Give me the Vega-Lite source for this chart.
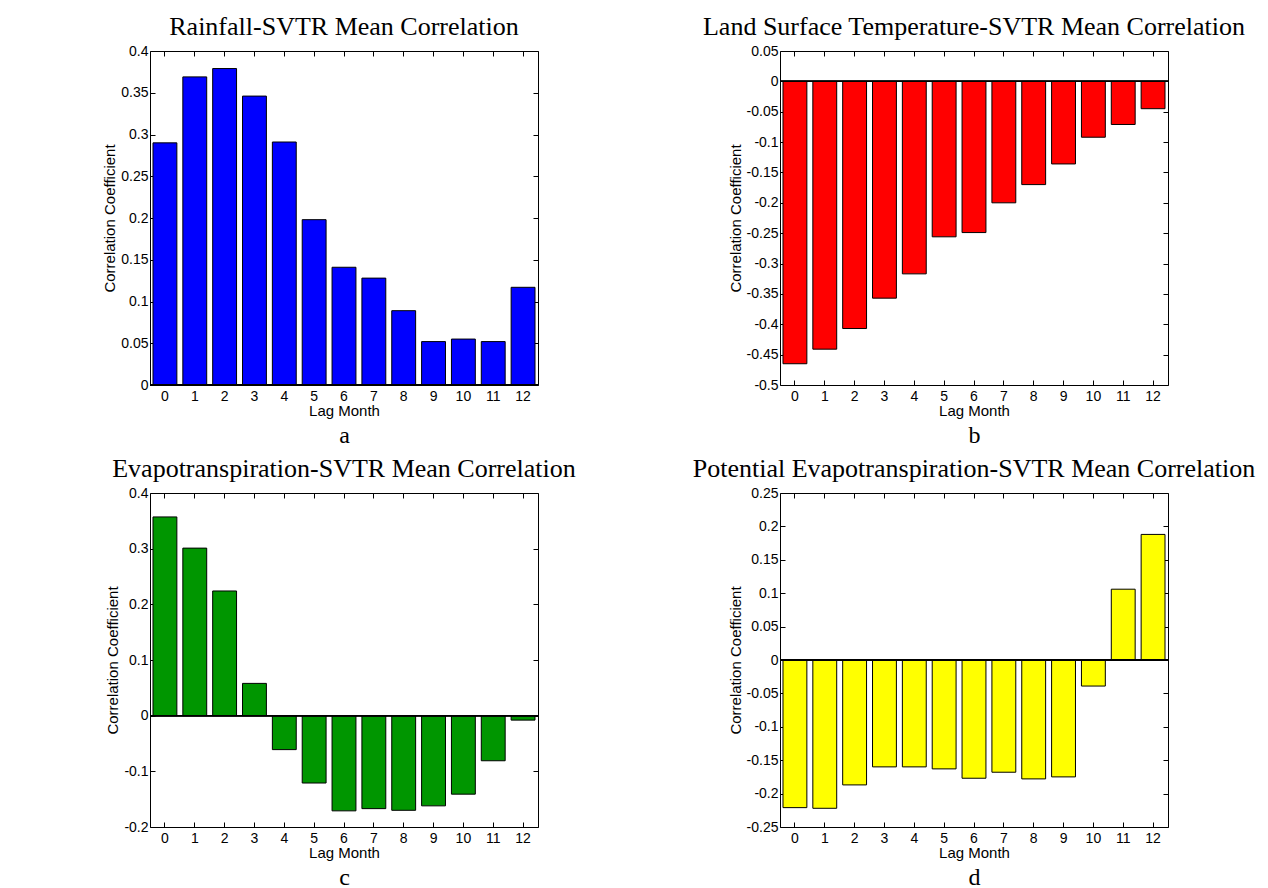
{
  "$schema": "https://vega.github.io/schema/vega-lite/v6.json",
  "background": "white",
  "padding": {"left": 102, "top": 13, "right": 5, "bottom": 0},
  "datasets": {
    "rain": [
      {"lag": 0, "r": 0.290}, {"lag": 1, "r": 0.369}, {"lag": 2, "r": 0.379}, {"lag": 3, "r": 0.346},
      {"lag": 4, "r": 0.291}, {"lag": 5, "r": 0.198}, {"lag": 6, "r": 0.141}, {"lag": 7, "r": 0.128},
      {"lag": 8, "r": 0.089}, {"lag": 9, "r": 0.052}, {"lag": 10, "r": 0.055}, {"lag": 11, "r": 0.052},
      {"lag": 12, "r": 0.117}
    ],
    "lst": [
      {"lag": 0, "r": -0.465}, {"lag": 1, "r": -0.441}, {"lag": 2, "r": -0.407}, {"lag": 3, "r": -0.357},
      {"lag": 4, "r": -0.317}, {"lag": 5, "r": -0.256}, {"lag": 6, "r": -0.249}, {"lag": 7, "r": -0.200},
      {"lag": 8, "r": -0.170}, {"lag": 9, "r": -0.136}, {"lag": 10, "r": -0.092}, {"lag": 11, "r": -0.071},
      {"lag": 12, "r": -0.045}
    ],
    "et": [
      {"lag": 0, "r": 0.357}, {"lag": 1, "r": 0.301}, {"lag": 2, "r": 0.224}, {"lag": 3, "r": 0.058},
      {"lag": 4, "r": -0.061}, {"lag": 5, "r": -0.121}, {"lag": 6, "r": -0.171}, {"lag": 7, "r": -0.167},
      {"lag": 8, "r": -0.170}, {"lag": 9, "r": -0.162}, {"lag": 10, "r": -0.141}, {"lag": 11, "r": -0.081},
      {"lag": 12, "r": -0.008}
    ],
    "pet": [
      {"lag": 0, "r": -0.221}, {"lag": 1, "r": -0.222}, {"lag": 2, "r": -0.187}, {"lag": 3, "r": -0.160},
      {"lag": 4, "r": -0.160}, {"lag": 5, "r": -0.163}, {"lag": 6, "r": -0.177}, {"lag": 7, "r": -0.168},
      {"lag": 8, "r": -0.178}, {"lag": 9, "r": -0.175}, {"lag": 10, "r": -0.039}, {"lag": 11, "r": 0.106},
      {"lag": 12, "r": 0.188}
    ]
  },
  "columns": 2,
  "spacing": {"row": 108, "column": 242},
  "bounds": "flush",
  "concat": [
    {
      "width": 388, "height": 334,
      "title": {"text": "Rainfall-SVTR Mean Correlation"},
      "data": {"name": "rain"},
      "layer": [
        {"mark": {"type": "bar", "color": "#0000ff", "stroke": "#000000", "strokeWidth": 1},
         "encoding": {
           "x": {"field": "lag", "type": "ordinal", "scale": {"paddingInner": 0.2, "paddingOuter": 0.1}, "axis": {"orient": "bottom", "title": "Lag Month"}},
           "y": {"field": "r", "type": "quantitative", "scale": {"domain": [0, 0.4], "nice": false}, "axis": {"title": "Correlation Coefficient", "values": [0, 0.05, 0.1, 0.15, 0.2, 0.25, 0.3, 0.35, 0.4]}}
         }},
        {"mark": {"type": "rule", "color": "#000000", "strokeWidth": 1},
         "encoding": {"y": {"datum": 0, "type": "quantitative", "axis": null}}},
        {"mark": {"type": "bar", "opacity": 0},
         "encoding": {
           "x": {"field": "lag", "type": "ordinal", "axis": {"orient": "top", "labels": false, "title": null}},
           "y": {"field": "r", "type": "quantitative", "axis": {"orient": "right", "labels": false, "title": null, "values": [0, 0.05, 0.1, 0.15, 0.2, 0.25, 0.3, 0.35, 0.4]}}
         }},
        {"mark": {"type": "bar", "opacity": 0},
         "encoding": {
           "x": {"field": "lag", "type": "ordinal", "axis": {"orient": "bottom", "labels": false, "ticks": false, "title": "a", "titleFont": "Liberation Serif", "titleFontSize": 24, "titlePadding": 38}},
           "y": {"field": "r", "type": "quantitative", "axis": null}
         }}
      ],
      "resolve": {"axis": {"x": "independent", "y": "independent"}}
    },
    {
      "width": 388, "height": 334,
      "title": {"text": "Land Surface Temperature-SVTR Mean Correlation"},
      "data": {"name": "lst"},
      "layer": [
        {"mark": {"type": "bar", "color": "#ff0000", "stroke": "#000000", "strokeWidth": 1},
         "encoding": {
           "x": {"field": "lag", "type": "ordinal", "scale": {"paddingInner": 0.2, "paddingOuter": 0.1}, "axis": {"orient": "bottom", "title": "Lag Month"}},
           "y": {"field": "r", "type": "quantitative", "scale": {"domain": [-0.5, 0.05], "nice": false}, "axis": {"title": "Correlation Coefficient", "values": [-0.5, -0.45, -0.4, -0.35, -0.3, -0.25, -0.2, -0.15, -0.1, -0.05, 0, 0.05]}}
         }},
        {"mark": {"type": "rule", "color": "#000000", "strokeWidth": 1},
         "encoding": {"y": {"datum": 0, "type": "quantitative", "axis": null}}},
        {"mark": {"type": "bar", "opacity": 0},
         "encoding": {
           "x": {"field": "lag", "type": "ordinal", "axis": {"orient": "top", "labels": false, "title": null}},
           "y": {"field": "r", "type": "quantitative", "axis": {"orient": "right", "labels": false, "title": null, "values": [-0.5, -0.45, -0.4, -0.35, -0.3, -0.25, -0.2, -0.15, -0.1, -0.05, 0, 0.05]}}
         }},
        {"mark": {"type": "bar", "opacity": 0},
         "encoding": {
           "x": {"field": "lag", "type": "ordinal", "axis": {"orient": "bottom", "labels": false, "ticks": false, "title": "b", "titleFont": "Liberation Serif", "titleFontSize": 24, "titlePadding": 38}},
           "y": {"field": "r", "type": "quantitative", "axis": null}
         }}
      ],
      "resolve": {"axis": {"x": "independent", "y": "independent"}}
    },
    {
      "width": 388, "height": 334,
      "title": {"text": "Evapotranspiration-SVTR Mean Correlation"},
      "data": {"name": "et"},
      "layer": [
        {"mark": {"type": "bar", "color": "#009600", "stroke": "#000000", "strokeWidth": 1},
         "encoding": {
           "x": {"field": "lag", "type": "ordinal", "scale": {"paddingInner": 0.2, "paddingOuter": 0.1}, "axis": {"orient": "bottom", "title": "Lag Month"}},
           "y": {"field": "r", "type": "quantitative", "scale": {"domain": [-0.2, 0.4], "nice": false}, "axis": {"title": "Correlation Coefficient", "values": [-0.2, -0.1, 0, 0.1, 0.2, 0.3, 0.4]}}
         }},
        {"mark": {"type": "rule", "color": "#000000", "strokeWidth": 1},
         "encoding": {"y": {"datum": 0, "type": "quantitative", "axis": null}}},
        {"mark": {"type": "bar", "opacity": 0},
         "encoding": {
           "x": {"field": "lag", "type": "ordinal", "axis": {"orient": "top", "labels": false, "title": null}},
           "y": {"field": "r", "type": "quantitative", "axis": {"orient": "right", "labels": false, "title": null, "values": [-0.2, -0.1, 0, 0.1, 0.2, 0.3, 0.4]}}
         }},
        {"mark": {"type": "bar", "opacity": 0},
         "encoding": {
           "x": {"field": "lag", "type": "ordinal", "axis": {"orient": "bottom", "labels": false, "ticks": false, "title": "c", "titleFont": "Liberation Serif", "titleFontSize": 24, "titlePadding": 38}},
           "y": {"field": "r", "type": "quantitative", "axis": null}
         }}
      ],
      "resolve": {"axis": {"x": "independent", "y": "independent"}}
    },
    {
      "width": 388, "height": 334,
      "title": {"text": "Potential Evapotranspiration-SVTR Mean Correlation"},
      "data": {"name": "pet"},
      "layer": [
        {"mark": {"type": "bar", "color": "#ffff00", "stroke": "#000000", "strokeWidth": 1},
         "encoding": {
           "x": {"field": "lag", "type": "ordinal", "scale": {"paddingInner": 0.2, "paddingOuter": 0.1}, "axis": {"orient": "bottom", "title": "Lag Month"}},
           "y": {"field": "r", "type": "quantitative", "scale": {"domain": [-0.25, 0.25], "nice": false}, "axis": {"title": "Correlation Coefficient", "values": [-0.25, -0.2, -0.15, -0.1, -0.05, 0, 0.05, 0.1, 0.15, 0.2, 0.25]}}
         }},
        {"mark": {"type": "rule", "color": "#000000", "strokeWidth": 1},
         "encoding": {"y": {"datum": 0, "type": "quantitative", "axis": null}}},
        {"mark": {"type": "bar", "opacity": 0},
         "encoding": {
           "x": {"field": "lag", "type": "ordinal", "axis": {"orient": "top", "labels": false, "title": null}},
           "y": {"field": "r", "type": "quantitative", "axis": {"orient": "right", "labels": false, "title": null, "values": [-0.25, -0.2, -0.15, -0.1, -0.05, 0, 0.05, 0.1, 0.15, 0.2, 0.25]}}
         }},
        {"mark": {"type": "bar", "opacity": 0},
         "encoding": {
           "x": {"field": "lag", "type": "ordinal", "axis": {"orient": "bottom", "labels": false, "ticks": false, "title": "d", "titleFont": "Liberation Serif", "titleFontSize": 24, "titlePadding": 38}},
           "y": {"field": "r", "type": "quantitative", "axis": null}
         }}
      ],
      "resolve": {"axis": {"x": "independent", "y": "independent"}}
    }
  ],
  "config": {
    "view": {"stroke": "#000000", "strokeWidth": 1},
    "title": {"font": "Liberation Serif", "fontSize": 26, "fontWeight": "normal", "color": "#000000", "offset": 4, "anchor": "middle"},
    "axis": {
      "domain": false,
      "grid": false,
      "tickColor": "#000000",
      "tickSize": -5,
      "labelFont": "Liberation Sans",
      "labelFontSize": 14,
      "labelColor": "#000000",
      "labelExpr": "toString(datum.value)",
      "titleFont": "Liberation Sans",
      "titleFontSize": 15,
      "titleFontWeight": "normal",
      "titleColor": "#000000"
    },
    "axisX": {"labelAngle": 0, "labelPadding": 9, "titlePadding": 0},
    "axisY": {"labelPadding": 7, "titlePadding": 3}
  }
}
